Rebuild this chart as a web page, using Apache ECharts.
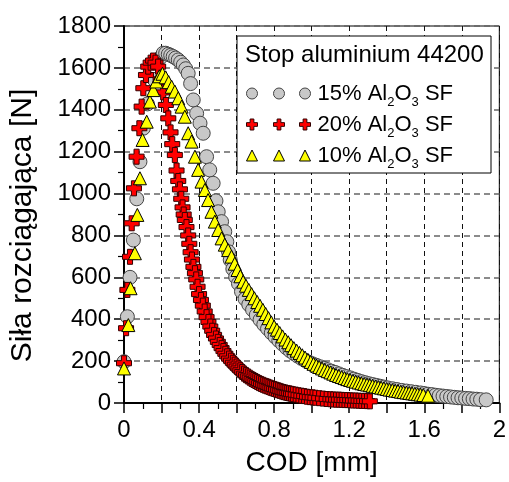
<!DOCTYPE html>
<html>
<head>
<meta charset="utf-8">
<script src="https://cdn.jsdelivr.net/npm/echarts@6/dist/echarts.min.js"></script>
<style>html,body{margin:0;padding:0;background:#fff}#c{width:509px;height:482px}</style>
</head>
<body>
<div id="c"></div>
<script>
// ---- data: [COD mm, force N] ----
var data15 = [[0,197],[0.018,412],[0.032,600],[0.050,778],[0.068,975],[0.085,1152],[0.103,1312],[0.125,1428],[0.160,1545],[0.195,1650],[0.209,1670],[0.222,1670],[0.236,1665],[0.249,1660],[0.262,1654],[0.275,1647],[0.289,1638],[0.302,1627],[0.316,1614],[0.329,1596],[0.342,1574],[0.355,1525],[0.369,1447],[0.387,1383],[0.405,1336],[0.422,1288],[0.440,1176],[0.457,1113],[0.475,1049],[0.490,965],[0.502,913],[0.520,866],[0.537,818],[0.548,770],[0.557,722],[0.566,683],[0.580,640],[0.595,602],[0.610,570],[0.626,532],[0.645,497],[0.665,470],[0.685,445],[0.705,420],[0.725,397],[0.745,375],[0.765,355],[0.785,335],[0.805,316],[0.825,298],[0.845,281],[0.865,264],[0.885,249],[0.905,236],[0.925,224],[0.945,213],[0.965,203],[0.985,195],[1.005,187],[1.025,180],[1.045,173],[1.065,166],[1.085,159],[1.105,152],[1.125,146],[1.145,139],[1.165,132],[1.185,126],[1.205,120],[1.225,114],[1.245,108],[1.265,102],[1.285,97],[1.305,92],[1.325,88],[1.345,84],[1.365,80],[1.385,76],[1.405,72],[1.430,68],[1.455,64],[1.480,60],[1.505,57],[1.530,54],[1.555,51],[1.580,48],[1.600,45],[1.620,42],[1.640,40],[1.660,37],[1.680,35],[1.700,33],[1.720,31],[1.740,29],[1.760,27],[1.780,25],[1.800,24],[1.820,22],[1.840,21],[1.860,19],[1.880,18],[1.900,16],[1.930,15]];

var data20 = [[0,190],[0.011,357],[0.018,540],[0.032,698],[0.041,858],[0.053,1025],[0.067,1176],[0.082,1312],[0.094,1415],[0.103,1503],[0.117,1566],[0.129,1606],[0.142,1625],[0.155,1635],[0.168,1625],[0.182,1606],[0.195,1545],[0.209,1483],[0.223,1423],[0.236,1359],[0.248,1292],[0.257,1236],[0.271,1184],[0.280,1110],[0.289,1060],[0.298,1020],[0.305,975],[0.312,934],[0.318,900],[0.324,874],[0.333,840],[0.342,800],[0.348,760],[0.355,720],[0.362,685],[0.370,650],[0.378,620],[0.385,590],[0.392,555],[0.40,520],[0.41,492],[0.42,465],[0.43,437],[0.44,410],[0.45,387],[0.46,365],[0.47,345],[0.48,325],[0.49,308],[0.50,292],[0.51,277],[0.52,262],[0.53,248],[0.54,235],[0.55,223],[0.56,212],[0.57,202],[0.58,192],[0.59,183],[0.60,174],[0.61,165],[0.62,156],[0.63,148],[0.64,140],[0.65,133],[0.66,127],[0.67,121],[0.68,115],[0.69,110],[0.70,105],[0.71,100],[0.72,95],[0.73,91],[0.74,87],[0.75,83],[0.76,80],[0.77,77],[0.78,73],[0.79,70],[0.80,67],[0.81,64],[0.82,61],[0.83,58],[0.84,55],[0.85,52],[0.86,50],[0.87,48],[0.88,46],[0.89,44],[0.90,42],[0.915,40],[0.93,37],[0.945,35],[0.96,33],[0.975,30],[0.99,28],[1.005,27],[1.02,25],[1.04,23],[1.06,21],[1.08,19],[1.10,18],[1.115,17],[1.13,16],[1.145,16],[1.16,15],[1.175,14],[1.19,14],[1.205,13],[1.22,12],[1.235,12],[1.25,11],[1.265,10],[1.28,10],[1.295,9],[1.31,8]];

var data10 = [[0,165],[0.023,372],[0.035,548],[0.058,715],[0.071,898],[0.085,1073],[0.099,1256],[0.121,1343],[0.138,1439],[0.156,1494],[0.172,1535],[0.188,1560],[0.205,1572],[0.222,1555],[0.238,1532],[0.254,1510],[0.271,1487],[0.289,1455],[0.307,1415],[0.324,1367],[0.342,1288],[0.360,1248],[0.378,1176],[0.395,1113],[0.413,1057],[0.431,1017],[0.448,969],[0.466,913],[0.484,866],[0.502,826],[0.520,786],[0.537,756],[0.555,730],[0.573,699],[0.590,665],[0.605,635],[0.620,605],[0.635,579],[0.650,560],[0.665,540],[0.680,520],[0.695,500],[0.710,482],[0.725,464],[0.740,445],[0.755,425],[0.770,405],[0.785,385],[0.800,365],[0.815,350],[0.830,334],[0.845,318],[0.860,303],[0.875,290],[0.890,276],[0.905,262],[0.920,250],[0.935,239],[0.950,228],[0.965,217],[0.980,206],[0.995,196],[1.010,187],[1.025,179],[1.040,172],[1.055,165],[1.070,158],[1.085,152],[1.100,146],[1.115,140],[1.130,134],[1.145,129],[1.160,124],[1.175,119],[1.190,114],[1.205,110],[1.220,106],[1.235,102],[1.250,98],[1.265,94],[1.280,91],[1.295,88],[1.310,85],[1.325,82],[1.340,79],[1.355,76],[1.370,73],[1.385,70],[1.400,67],[1.415,64],[1.430,62],[1.445,59],[1.460,57],[1.475,54],[1.490,52],[1.505,50],[1.520,48],[1.535,46],[1.550,44],[1.565,42],[1.580,40],[1.595,38],[1.620,35]];

var seriesNames = ['15% Al2O3 SF', '20% Al2O3 SF', '10% Al2O3 SF'];
var seriesPct = ['15%', '20%', '10%'];
var xTickLabels = ['0', '0.4', '0.8', '1.2', '1.6', '2'];
var yTickLabels = ['0', '200', '400', '600', '800', '1000', '1200', '1400', '1600', '1800'];
var legendTitle = 'Stop aluminium 44200';
var xTitle = 'COD [mm]';
var yTitle = 'Siła rozciągająca [N]';

var FONT = "'Liberation Sans', Arial, sans-serif";
var crossPath = 'path://M3.3,0H6.7V3.3H10V6.7H6.7V10H3.3V6.7H0V3.3H3.3Z';

function xLabel(v) {
  var k = v / 0.4, r = Math.round(k);
  return Math.abs(k - r) < 1e-6 && xTickLabels[r] !== undefined ? xTickLabels[r] : '';
}
function yLabel(v) {
  var k = Math.round(v / 200);
  return yTickLabels[k] !== undefined ? yTickLabels[k] : '';
}
function legendText(name) {
  var p = seriesPct[seriesNames.indexOf(name)];
  return '{f|' + p + ' Al}{s|2}{a|O}{s|3}{a| SF}';
}
function makeLegend(left, transparent) {
  var col = transparent ? 'rgba(0,0,0,0)' : '#000';
  return {
    orient: 'vertical', left: left, top: 73, itemGap: 0,
    itemWidth: 11, itemHeight: 11, selectedMode: false, z: 20,
    data: seriesNames,
    itemStyle: { borderWidth: 1 },
    formatter: legendText,
    textStyle: {
      color: col, fontFamily: FONT, fontSize: 22, lineHeight: 31,
      rich: {
        f: { color: col, fontFamily: FONT, fontSize: 22, lineHeight: 31, padding: [0, 0, 0, 2] },
        a: { color: col, fontFamily: FONT, fontSize: 22, lineHeight: 31 },
        s: { color: col, fontFamily: FONT, fontSize: 13, lineHeight: 14, verticalAlign: 'bottom' }
      }
    }
  };
}

var chart = echarts.init(document.getElementById('c'), null, { renderer: 'canvas' });
chart.setOption({
  animation: false,
  backgroundColor: '#fff',
  textStyle: { fontFamily: FONT },
  grid: { left: 124, right: 9, top: 26, bottom: 79, show: true, borderColor: '#000', borderWidth: 1, backgroundColor: 'transparent' },
  xAxis: {
    type: 'value', min: 0, max: 2, interval: 0.2,
    axisLine: { show: true, onZero: false, lineStyle: { color: '#000', width: 2 } },
    axisTick: { show: true, inside: false, length: 10, lineStyle: { color: '#000', width: 1.5 } },
    minorTick: { show: true, splitNumber: 2, length: 6, lineStyle: { color: '#000', width: 1.2 } },
    splitLine: { show: true, lineStyle: { color: '#111', width: 1, type: [5, 4] } },
    axisLabel: { formatter: xLabel, fontSize: 24, color: '#000', margin: 15, fontFamily: FONT },
    name: xTitle, nameLocation: 'middle', nameGap: 46,
    nameTextStyle: { fontSize: 28, color: '#000', fontFamily: FONT }
  },
  yAxis: {
    type: 'value', min: 0, max: 1800, interval: 200,
    axisLine: { show: true, onZero: false, lineStyle: { color: '#000', width: 2 } },
    axisTick: { show: true, inside: false, length: 10, lineStyle: { color: '#000', width: 1.5 } },
    minorTick: { show: true, splitNumber: 2, length: 6, lineStyle: { color: '#000', width: 1.2 } },
    splitLine: { show: true, lineStyle: { color: '#666', width: 1.5, type: [6, 4] } },
    axisLabel: { formatter: yLabel, fontSize: 24, color: '#000', margin: 13, fontFamily: FONT },
    name: yTitle, nameLocation: 'middle', nameGap: 86, nameRotate: 90,
    nameTextStyle: { fontSize: 30, color: '#000', fontFamily: FONT, padding: [0, 22, 0, 0] }
  },
  legend: [makeLegend(241, true), makeLegend(268, true), makeLegend(294, false)],
  graphic: [
    { type: 'rect', z: 10, shape: { x: 237, y: 36, width: 254, height: 137 }, style: { fill: '#fff', stroke: '#000', lineWidth: 1 } },
    { type: 'text', z: 11, x: 245, y: 55, style: { text: legendTitle, font: '24px ' + FONT, fill: '#000', verticalAlign: 'middle' } }
  ],
  series: [
    { name: seriesNames[0], type: 'scatter', data: data15, symbol: 'circle', symbolSize: 14,
      itemStyle: { color: '#c8c8c8', borderColor: '#444', borderWidth: 1, opacity: 1 } },
    { name: seriesNames[1], type: 'scatter', data: data20, symbol: crossPath, symbolSize: 15,
      itemStyle: { color: '#ff0000', borderColor: '#300', borderWidth: 1, opacity: 1 } },
    { name: seriesNames[2], type: 'scatter', data: data10, symbol: 'triangle', symbolSize: 13,
      itemStyle: { color: '#ffff00', borderColor: '#000', borderWidth: 1, opacity: 1 } }
  ]
});
</script>
</body>
</html>
